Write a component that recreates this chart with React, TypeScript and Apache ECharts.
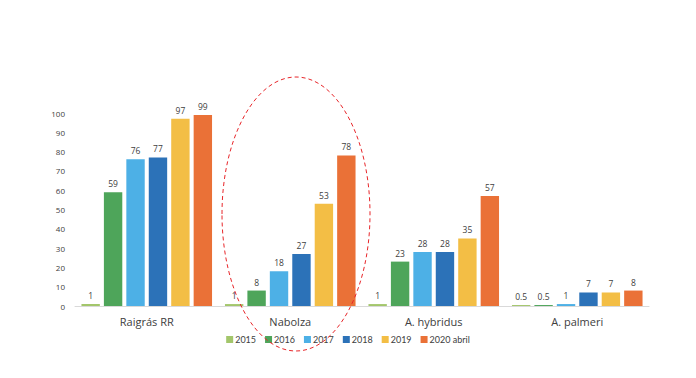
import React, { useEffect, useRef } from "react";
import * as echarts from "echarts";

const categories = ["Raigrás RR", "Nabolza", "A. hybridus", "A. palmeri"];
const seriesNames = ["2015", "2016", "2017", "2018", "2019", "2020 abril"];
const v2015 = [1, 1, 1, 0.5];
const v2016 = [59, 8, 23, 0.5];
const v2017 = [76, 18, 28, 1];
const v2018 = [77, 27, 28, 7];
const v2019 = [97, 53, 35, 7];
const v2020 = [99, 78, 57, 8];
const seriesValues = [v2015, v2016, v2017, v2018, v2019, v2020];
const colors = ["#A3C66B", "#4EA55A", "#4DB0E6", "#2C72B8", "#F3BE45", "#EA7137"];

export default function App() {
  const ref = useRef<HTMLDivElement>(null);
  useEffect(() => {
    const chart = echarts.init(ref.current!, null, { renderer: "svg" });
    chart.setOption({
      animation: false,
      backgroundColor: "#ffffff",
      textStyle: { fontFamily: "Open Sans, sans-serif" },
      grid: { left: 75, right: 47, top: 113, bottom: 72 },
      legend: {
        bottom: 29,
        left: "center",
        itemWidth: 7,
        itemHeight: 7,
        itemGap: 9,
        icon: "rect",
        textStyle: { fontSize: 9, color: "#404040", padding: [0, 0, 0, -3], fontFamily: "Lato, sans-serif" },
        data: seriesNames,
      },
      xAxis: {
        type: "category",
        data: categories,
        axisLine: { lineStyle: { color: "#D9D9D9" } },
        axisTick: { show: false },
        axisLabel: { fontSize: 11, color: "#404040", margin: 10 },
      },
      yAxis: {
        type: "value",
        min: 0,
        max: 100,
        interval: 10,
        splitLine: { show: false },
        axisLine: { show: false },
        axisTick: { show: false },
        axisLabel: { fontSize: 8, color: "#404040", margin: 10 },
      },
      series: seriesNames.map((name, i) => ({
        name,
        type: "bar",
        data: seriesValues[i],
        barGap: "22%",
        barCategoryGap: "9%",
        itemStyle: { color: colors[i] },
        label: { show: true, position: "top", fontSize: 8.5, color: "#404040", distance: 4 },
      })),
      graphic: [
        {
          type: "ellipse",
          shape: { cx: 296, cy: 214, rx: 74, ry: 137 },
          style: { fill: "none", stroke: "#E8262A", lineWidth: 1, lineDash: [4, 3] },
          z: 100,
        },
      ],
    });
    return () => chart.dispose();
  }, []);
  return <div ref={ref} style={{ width: 696, height: 378, margin: -8 }} />;
}
